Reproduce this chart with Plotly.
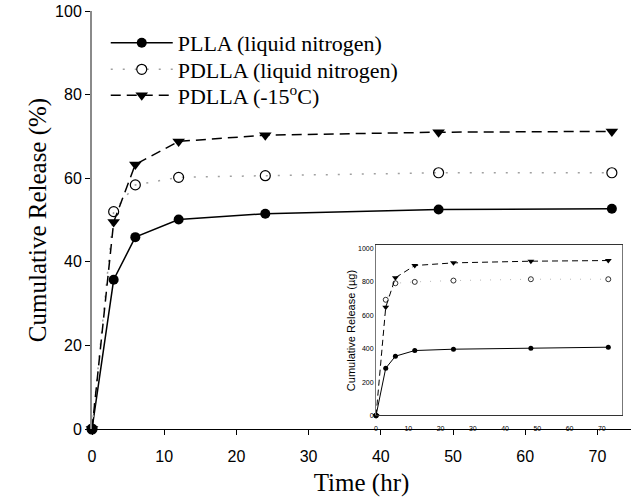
import plotly.graph_objects as go

# Main plot data (Cumulative Release %, time in hr)
time_hr = [0, 3, 6, 12, 24, 48, 72]
plla_ln = [0, 35.7, 45.9, 50.1, 51.5, 52.5, 52.7]
pdlla_ln = [0, 52.0, 58.4, 60.2, 60.6, 61.3, 61.3]
pdlla_15 = [0, 49.5, 63.3, 68.8, 70.3, 71.0, 71.2]

# Inset data (Cumulative Release, µg)
inset_plla = [0, 283, 355, 389, 397, 403, 409]
inset_pdlla_ln = [0, 693, 792, 800, 808, 816, 816]
inset_pdlla_15 = [0, 648, 825, 898, 914, 924, 928]

names = ["PLLA (liquid nitrogen)", "PDLLA (liquid nitrogen)", "PDLLA (-15<sup>o</sup>C)"]
x_ticks = [0, 10, 20, 30, 40, 50, 60, 70]
y_ticks = [0, 20, 40, 60, 80, 100]
inset_y_ticks = [0, 200, 400, 600, 800, 1000]

fig = go.Figure()

fig.add_trace(go.Scatter(
    x=time_hr, y=plla_ln, name=names[0], mode="lines+markers", legend="legend",
    line=dict(color="black", width=1.5),
    marker=dict(symbol="circle", size=10, color="black"),
    cliponaxis=False))
fig.add_trace(go.Scatter(
    x=time_hr, y=pdlla_ln, name=names[1], mode="lines+markers", legend="legend2",
    line=dict(color="#a0a0a0", width=1.5, dash="2px,10px"),
    marker=dict(symbol="circle-open", size=10, color="black", line=dict(width=1.2)),
    cliponaxis=False))
fig.add_trace(go.Scatter(
    x=time_hr, y=pdlla_15, name=names[2], mode="lines+markers", legend="legend3",
    line=dict(color="black", width=1.5, dash="10px,6px"),
    marker=dict(symbol="triangle-down", size=11, color="black"),
    cliponaxis=False))

# Inset traces
fig.add_trace(go.Scatter(
    x=time_hr, y=inset_plla, xaxis="x2", yaxis="y2", mode="lines+markers",
    showlegend=False, line=dict(color="black", width=1),
    marker=dict(symbol="circle", size=5, color="black"), cliponaxis=False))
fig.add_trace(go.Scatter(
    x=time_hr, y=inset_pdlla_ln, xaxis="x2", yaxis="y2", mode="lines+markers",
    showlegend=False, line=dict(color="#b8b8b8", width=1, dash="1px,9px"),
    marker=dict(symbol="circle-open", size=5, color="black", line=dict(width=0.8)),
    cliponaxis=False))
fig.add_trace(go.Scatter(
    x=time_hr, y=inset_pdlla_15, xaxis="x2", yaxis="y2", mode="lines+markers",
    showlegend=False, line=dict(color="black", width=1, dash="6px,4px"),
    marker=dict(symbol="triangle-down", size=6, color="black"), cliponaxis=False))

legend_style = dict(xanchor="left", yanchor="middle",
                    font=dict(family="Liberation Serif", size=22, color="black"),
                    bgcolor="rgba(0,0,0,0)", itemwidth=62)

fig.update_layout(
    width=631, height=499,
    margin=dict(l=92, r=0, t=11, b=70),
    paper_bgcolor="white", plot_bgcolor="white",
    showlegend=True,
    legend=dict(x=0.0255, y=0.9234, **legend_style),
    legend2=dict(x=0.0255, y=0.8600, **legend_style),
    legend3=dict(x=0.0255, y=0.7980, **legend_style),
    xaxis=dict(range=[0, 74.65], tickvals=x_ticks, ticks="outside", ticklen=5,
               tickcolor="black", showline=True, linecolor="black", linewidth=1.2,
               showgrid=False, zeroline=False, automargin=False, ticklabelstandoff=8,
               tickfont=dict(family="Liberation Sans", size=16, color="black"),
               title=dict(text="Time (hr)", standoff=9,
                          font=dict(family="Liberation Serif", size=25, color="black"))),
    yaxis=dict(range=[0, 100], tickvals=y_ticks, ticks="outside", ticklen=5,
               tickcolor="black", showline=True, linecolor="#8a8a8a", linewidth=2,
               showgrid=False, zeroline=False, automargin=False, ticklabelstandoff=0,
               tickfont=dict(family="Liberation Sans", size=16, color="black"),
               title=dict(text="Cumulative Release (%)", standoff=1,
                          font=dict(family="Liberation Serif", size=25, color="black"))),
    xaxis2=dict(domain=[0.527, 0.983], anchor="y2", range=[0, 76.2],
                tickvals=x_ticks, ticks="", showline=True, linecolor="#333",
                linewidth=1, mirror=True, showgrid=False, zeroline=False,
                automargin=False, ticklabelstandoff=6,
                tickfont=dict(family="Liberation Sans", size=7, color="#000000")),
    yaxis2=dict(domain=[0.0323, 0.439], anchor="x2", range=[0, 1018],
                tickvals=inset_y_ticks, ticks="", showline=True, linecolor="#777",
                linewidth=1, mirror=True, showgrid=False, zeroline=False,
                automargin=False,
                tickfont=dict(family="Liberation Sans", size=7, color="#000000"),
                title=dict(text="Cumulative Release (\u00b5g)", standoff=0,
                           font=dict(family="Liberation Sans", size=11, color="black"))),
)

fig.write_html("out.html", config={"displayModeBar": False},
               post_script="document.body.style.margin='0px';")
